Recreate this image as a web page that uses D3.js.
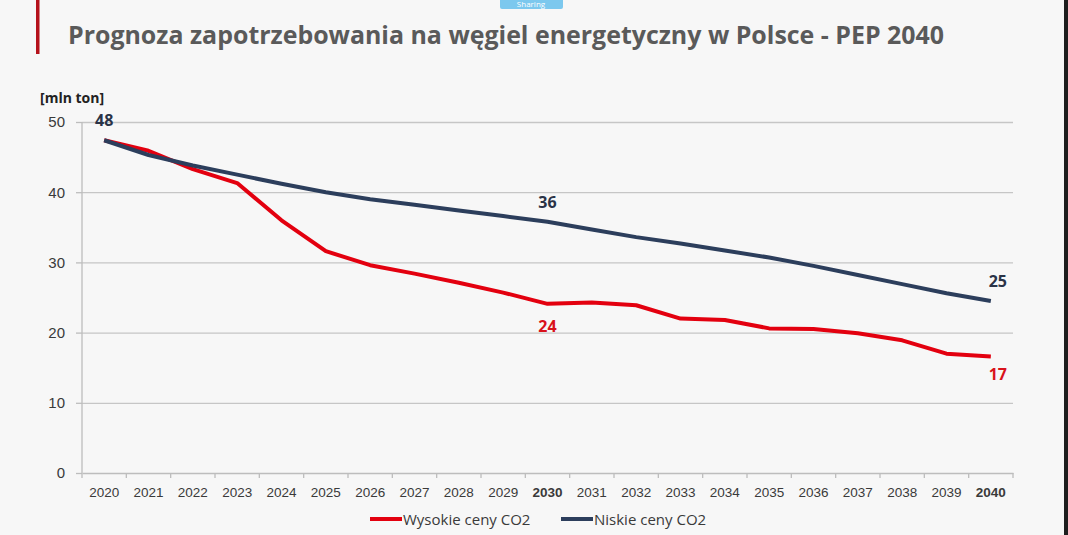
<!DOCTYPE html>
<meta charset="utf-8">
<style>
    body { margin: 0; background: #f7f7f7; }
    svg { display: block; font-family: "Open Sans", sans-serif; }
    .grid line { stroke: #c6c6c6; stroke-width: 1.3; }
    .grid .domain { display: none; }
    .xaxis .domain, .xaxis line { stroke: #bdbdbd; stroke-width: 1.3; }
    .xaxis text { font-size: 13.5px; fill: #3a3a3a; }
    .yaxis text { font-size: 15px; fill: #3a3a3a; }
</style>

<body>
    <script src="https://d3js.org/d3.v7.min.js"></script>
    <script>

        // Data
        var years = ["2020", "2021", "2022", "2023", "2024", "2025", "2026", "2027", "2028", "2029", "2030",
            "2031", "2032", "2033", "2034", "2035", "2036", "2037", "2038", "2039", "2040"];
        var wysokie = [47.4, 45.9, 43.3, 41.3, 36.0, 31.6, 29.6, 28.4, 27.1, 25.7, 24.1,
            24.3, 23.9, 22.0, 21.8, 20.6, 20.5, 19.9, 18.9, 17.0, 16.6];
        var niskie = [47.4, 45.3, 43.8, 42.5, 41.2, 40.0, 39.0, 38.2, 37.4, 36.6, 35.8,
            34.7, 33.6, 32.7, 31.7, 30.7, 29.5, 28.2, 26.9, 25.6, 24.5];
        var yTicks = [0, 10, 20, 30, 40, 50];
        var boldYears = ["2030", "2040"];
        var labels = [
            { series: "niskie", year: "2020", text: "48", dy: -14 },
            { series: "niskie", year: "2030", text: "36", dy: -14 },
            { series: "wysokie", year: "2030", text: "24", dy: 28 },
            { series: "niskie", year: "2040", text: "25", dy: -14, dx: 7 },
            { series: "wysokie", year: "2040", text: "17", dy: 24, dx: 7 }
        ];

        var red = "#e3000f", navy = "#2c3e5c";

        var W = 1068, H = 535;
        var margin = { top: 122, right: 55, bottom: 62, left: 82 },
            width = W - margin.left - margin.right,
            height = H - margin.top - margin.bottom;

        var svg = d3.select("body").append("svg")
            .attr("width", W)
            .attr("height", H);

        // right dark border
        svg.append("rect").attr("x", 1064).attr("y", 0).attr("width", 4).attr("height", H).attr("fill", "#1e1e1e");

        // "Sharing" badge
        svg.append("rect").attr("x", 500).attr("y", -4).attr("width", 63).attr("height", 13).attr("rx", 2).attr("fill", "#7cc8ee");
        svg.append("text").attr("x", 531).attr("y", 7).attr("text-anchor", "middle")
            .attr("font-size", 8).attr("fill", "#ffffff").text("Sharing");

        // title bar + title
        svg.append("rect").attr("x", 36).attr("y", 0).attr("width", 3.5).attr("height", 54).attr("fill", "#b5121b");
        svg.append("text")
            .attr("x", 68).attr("y", 44)
            .attr("font-size", 25).attr("font-weight", "bold").attr("fill", "#5a5a5a")
            .attr("textLength", 876).attr("lengthAdjust", "spacingAndGlyphs")
            .text("Prognoza zapotrzebowania na węgiel energetyczny w Polsce - PEP 2040");

        svg.append("text")
            .attr("x", 40).attr("y", 103)
            .attr("font-size", 14).attr("font-weight", "bold").attr("fill", "#222")
            .text("[mln ton]");

        var g = svg.append("g")
            .attr("transform", "translate(" + margin.left + "," + margin.top + ")");

        var x = d3.scaleBand().domain(years).range([0, width]);
        var y = d3.scaleLinear().domain([0, 50]).range([height, 0]);

        // gridlines
        g.append("g").attr("class", "grid")
            .call(d3.axisLeft(y).tickValues(yTicks).tickSize(-width).tickFormat(""))
            .call(function (s) { s.selectAll("line").filter(function (d) { return d === 0; }).remove(); });

        // y axis (labels only + left line)
        g.append("line").attr("x1", 0).attr("x2", 0).attr("y1", 0).attr("y2", height)
            .attr("stroke", "#bdbdbd").attr("stroke-width", 1.3);
        var ya = g.append("g").attr("class", "yaxis")
            .call(d3.axisLeft(y).tickValues(yTicks).tickSize(6).tickPadding(11));
        ya.select(".domain").remove();
        ya.selectAll("line").attr("stroke", "#bdbdbd").attr("stroke-width", 1.3);

        // x axis with ticks at category boundaries
        var xa = g.append("g").attr("class", "xaxis")
            .attr("transform", "translate(0," + height + ")")
            .call(d3.axisBottom(x).tickSize(0).tickPadding(14).tickSizeOuter(0));
        xa.selectAll("text")
            .attr("font-weight", function (d) { return boldYears.indexOf(d) >= 0 ? "bold" : "normal"; })
            .attr("fill", function (d) { return boldYears.indexOf(d) >= 0 ? "#111" : "#3a3a3a"; });
        xa.selectAll(".btick")
            .data(d3.range(years.length + 1))
            .enter().append("line")
            .attr("class", "btick")
            .attr("x1", function (i) { return i * x.step(); })
            .attr("x2", function (i) { return i * x.step(); })
            .attr("y1", 0).attr("y2", 5);

        var cx = function (d, i) { return x(years[i]) + x.bandwidth() / 2; };

        var line = d3.line()
            .x(function (d, i) { return cx(d, i); })
            .y(function (d) { return y(d); });

        g.append("path").datum(wysokie)
            .attr("fill", "none").attr("stroke", red).attr("stroke-width", 4)
            .attr("stroke-linejoin", "round").attr("d", line);

        g.append("path").datum(niskie)
            .attr("fill", "none").attr("stroke", navy).attr("stroke-width", 4)
            .attr("stroke-linejoin", "round").attr("d", line);

        // data labels
        g.selectAll(".lbl")
            .data(labels)
            .enter().append("text")
            .attr("class", "lbl")
            .attr("x", function (d) { return x(d.year) + x.bandwidth() / 2 + (d.dx || 0); })
            .attr("y", function (d) {
                var arr = d.series === "niskie" ? niskie : wysokie;
                return y(arr[years.indexOf(d.year)]) + d.dy;
            })
            .attr("text-anchor", "middle")
            .attr("font-size", 16).attr("font-weight", "bold")
            .attr("fill", function (d) { return d.series === "niskie" ? "#2a3347" : "#d9121b"; })
            .text(function (d) { return d.text; });

        // legend
        var legend = [
            { name: "Wysokie ceny CO2", color: red, x: 370 },
            { name: "Niskie ceny CO2", color: navy, x: 561 }
        ];
        var lg = svg.selectAll(".leg").data(legend).enter().append("g")
            .attr("transform", function (d) { return "translate(" + d.x + ",519)"; });
        lg.append("line").attr("x1", 0).attr("x2", 32).attr("y1", 0).attr("y2", 0)
            .attr("stroke", function (d) { return d.color; }).attr("stroke-width", 4);
        lg.append("text").attr("x", 33).attr("y", 5.5)
            .attr("font-size", 15).attr("fill", "#3a3a3a")
            .text(function (d) { return d.name; });

    </script>
</body>
